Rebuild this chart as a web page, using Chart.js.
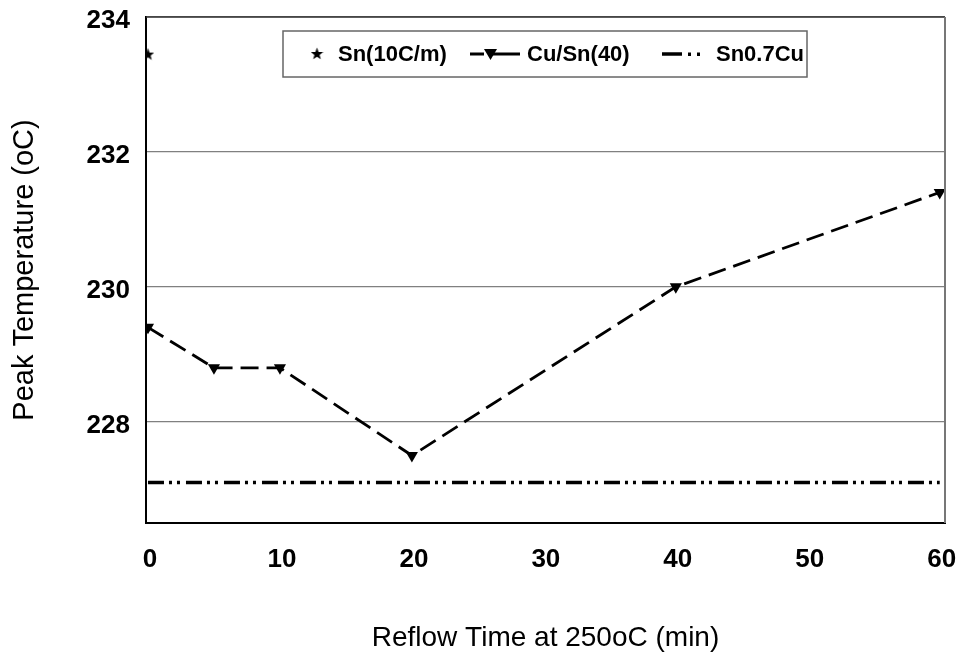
<!DOCTYPE html>
<html><head><meta charset="utf-8">
<script src="https://cdn.jsdelivr.net/npm/chart.js@4/dist/chart.umd.min.js"></script>
<style>html,body{margin:0;padding:0;background:#fff;}#wrap{width:961px;height:659px;}</style>
</head><body><div id="wrap"><canvas id="c" width="961" height="659"></canvas></div>
<script>
// ---- data ----
const xTickValues = [0, 10, 20, 30, 40, 50, 60];
const yTickValues = [228, 230, 232, 234];
const seriesNames = ['Sn(10C/m)', 'Cu/Sn(40)', 'Sn0.7Cu'];
const snTime = [0];
const snPeak = [233.45];
const cuTime = [0, 5, 10, 20, 40, 60];
const cuPeak = [229.4, 228.8, 228.8, 227.5, 230.0, 231.4];
const sn07Time = [0, 60];
const sn07Peak = [227.1, 227.1];
const xTitle = 'Reflow Time at 250oC (min)';
const yTitle = 'Peak Temperature (oC)';

function toPts(xs, ys) { return xs.map((x, i) => ({x: x, y: ys[i]})); }

// filled five-point star marker
function makeStar(size) {
  const c = document.createElement('canvas');
  c.width = size; c.height = size;
  const g = c.getContext('2d');
  const cx = size / 2, cy = size / 2, R = size / 2, r = R * 0.42;
  g.beginPath();
  for (let i = 0; i < 10; i++) {
    const ang = -Math.PI / 2 + i * Math.PI / 5;
    const rr = i % 2 === 0 ? R : r;
    const px = cx + rr * Math.cos(ang), py = cy + rr * Math.sin(ang) + 0.6;
    if (i === 0) g.moveTo(px, py); else g.lineTo(px, py);
  }
  g.closePath();
  g.fillStyle = '#000';
  g.fill();
  return c;
}
const starImg = makeStar(13);

const FONT = 'Arial, "Liberation Sans", sans-serif';

const frameLegend = {
  id: 'frameLegend',
  afterDatasetsDraw(chart) {
    const {ctx, chartArea: a} = chart;
    ctx.save();
    // top and right frame lines
    ctx.lineWidth = 1.5;
    ctx.strokeStyle = '#333';
    ctx.beginPath(); ctx.moveTo(a.left, a.top); ctx.lineTo(a.right, a.top); ctx.stroke();
    ctx.strokeStyle = '#777';
    ctx.lineWidth = 2;
    ctx.beginPath(); ctx.moveTo(a.right, a.top); ctx.lineTo(a.right, a.bottom); ctx.stroke();

    // legend
    const bx = 283, by = 31, bw = 524, bh = 46, cy = by + bh / 2;
    ctx.fillStyle = '#fff';
    ctx.fillRect(bx, by, bw, bh);
    ctx.font = 'bold 22px ' + FONT;
    ctx.textBaseline = 'middle';
    ctx.fillStyle = '#000';
    const ds = chart.data.datasets;
    // item 1: star
    ctx.drawImage(starImg, 317 - 6.5, cy - 7);
    ctx.fillText(ds[0].label, 338, cy + 1);
    // item 2: dashed line with triangle
    ctx.strokeStyle = '#000';
    ctx.lineWidth = 3;
    ctx.setLineDash([]);
    ctx.beginPath(); ctx.moveTo(470, cy); ctx.lineTo(484, cy); ctx.moveTo(492, cy); ctx.lineTo(520, cy); ctx.stroke();
    ctx.beginPath();
    ctx.moveTo(484, cy - 5); ctx.lineTo(497, cy - 5); ctx.lineTo(490.5, cy + 6); ctx.closePath();
    ctx.fill();
    ctx.fillText(ds[1].label, 527, cy + 1);
    // item 3: dash-dot-dot
    ctx.lineWidth = 3.5;
    ctx.beginPath(); ctx.moveTo(662, cy); ctx.lineTo(682, cy); ctx.stroke();
    ctx.fillRect(688, cy - 1.5, 3, 3.5);
    ctx.fillRect(697, cy - 1.5, 3, 3.5);
    ctx.fillText(ds[2].label, 716, cy + 1);
    ctx.strokeStyle = '#666';
    ctx.lineWidth = 1.5;
    ctx.strokeRect(bx, by, bw, bh);
    ctx.restore();
  }
};

new Chart(document.getElementById('c'), {
  type: 'scatter',
  data: {
    datasets: [
      {
        label: seriesNames[0],
        data: toPts(snTime, snPeak),
        pointStyle: starImg,
        showLine: false,
        borderColor: '#000', backgroundColor: '#000'
      },
      {
        label: seriesNames[1],
        data: toPts(cuTime, cuPeak),
        showLine: true,
        borderColor: '#000', backgroundColor: '#000',
        borderWidth: 2.8,
        borderDash: [18, 8],
        pointStyle: 'triangle', rotation: 180,
        pointRadius: 7, pointBorderWidth: 0,
        pointBackgroundColor: '#000'
      },
      {
        label: seriesNames[2],
        data: toPts(sn07Time, sn07Peak),
        showLine: true,
        borderColor: '#000',
        borderWidth: 3.5,
        borderDash: [16, 5, 3, 5, 3, 6],
        pointRadius: 0
      }
    ]
  },
  options: {
    responsive: false,
    devicePixelRatio: 1,
    animation: false,
    layout: {padding: {top: 17, right: 16, left: 0, bottom: 0}},
    plugins: {legend: {display: false}, tooltip: {enabled: false}},
    scales: {
      x: {
        type: 'linear', min: -0.15, max: 60.4,
        afterBuildTicks: s => { s.ticks = xTickValues.map(v => ({value: v})); },
        afterFit: s => { s.height = 136; s.paddingLeft = 0; s.paddingRight = 0; },
        grid: {display: false},
        border: {display: true, color: '#000', width: 2},
        ticks: {color: '#000', font: {family: FONT, size: 26, weight: 'bold'}, padding: 13, maxRotation: 0, labelOffset: 2},
        title: {display: true, text: xTitle, color: '#000', font: {family: FONT, size: 28}, padding: {top: 0, bottom: 4}}
      },
      y: {
        min: 226.5, max: 234,
        afterBuildTicks: s => { s.ticks = yTickValues.map(v => ({value: v})); },
        afterFit: s => { s.width = 146; s.paddingTop = 0; s.paddingBottom = 0; },
        grid: {color: '#808080', lineWidth: 1.2, drawTicks: false},
        border: {display: true, color: '#000', width: 2},
        ticks: {color: '#000', font: {family: FONT, size: 26, weight: 'bold'}, padding: 16, labelOffset: 4},
        title: {display: true, text: yTitle, color: '#000', font: {family: FONT, size: 29}, padding: {top: 8, bottom: 0}}
      }
    }
  },
  plugins: [frameLegend]
});
</script>
</body></html>
